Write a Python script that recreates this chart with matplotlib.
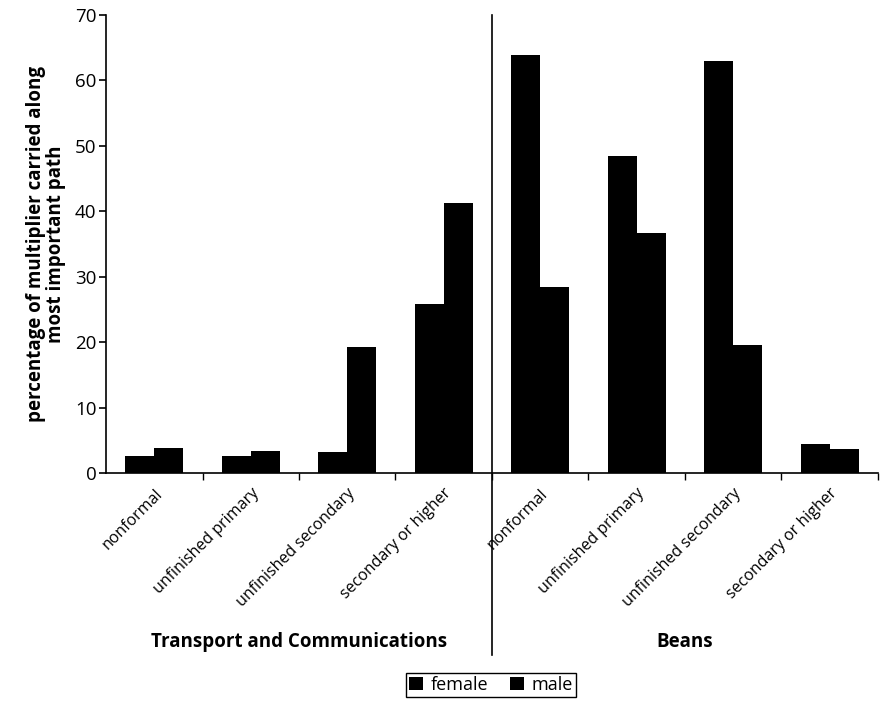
import matplotlib
matplotlib.use("Agg")
import matplotlib.pyplot as plt
from matplotlib.patches import Patch
import numpy as np

plt.rcParams['font.family'] = ['Open Sans', 'DejaVu Sans']

categories = ['nonformal', 'unfinished primary', 'unfinished secondary', 'secondary or higher',
              'nonformal', 'unfinished primary', 'unfinished secondary', 'secondary or higher']
groups = ['Transport and Communications', 'Beans']
female = [2.6, 2.6, 3.2, 25.8, 63.9, 48.5, 62.9, 4.5]
male = [3.8, 3.3, 19.2, 41.3, 28.5, 36.7, 19.6, 3.6]

fig = plt.figure(figsize=(8.8, 7.06), dpi=100)
ax = fig.add_axes([0.1205, 0.33, 0.877, 0.6488])

x = np.arange(len(categories))
w = 0.3
ax.bar(x - w/2, female, w, color='black', label='female')
ax.bar(x + w/2, male, w, color='black', label='male')

ax.set_xlim(-0.5, len(categories) - 0.5)
ax.set_ylim(0, 70)
ax.set_yticks(range(0, 71, 10))
ax.tick_params(axis='y', labelsize=13.5, direction='out', length=5, width=1.2, pad=2)

ax.set_xticks(x)
ax.set_xticklabels(categories, rotation=45, ha='right', rotation_mode='anchor', fontsize=11.5)
ax.tick_params(axis='x', which='major', length=0, pad=9)
ax.set_xticks(np.arange(0.5, len(categories), 1), minor=True)
ax.tick_params(axis='x', which='minor', direction='out', length=5, width=1)

for s in ['top', 'right']:
    ax.spines[s].set_visible(False)
ax.spines['left'].set_linewidth(1.2)
ax.spines['bottom'].set_linewidth(1.2)

ax.set_ylabel('percentage of multiplier carried along\nmost important path',
              fontsize=13.5, fontweight='bold', labelpad=6, linespacing=1.0)

# divider between the two groups
ax.plot([3.5, 3.5], [1, -0.397], color='black', lw=1.2,
        transform=ax.get_xaxis_transform(), clip_on=False)

ax.text(1.5, -0.368, groups[0], transform=ax.get_xaxis_transform(),
        ha='center', va='center', fontsize=13.5, fontweight='bold')
ax.text(5.5, -0.368, groups[1], transform=ax.get_xaxis_transform(),
        ha='center', va='center', fontsize=13.5, fontweight='bold')

handles = [Patch(facecolor='black', label='female'), Patch(facecolor='black', label='male')]
fig.legend(handles=handles, loc='center', bbox_to_anchor=(0.558, 0.03), ncol=2,
           fancybox=False, edgecolor='black', fontsize=13, handlelength=0.8,
           handleheight=0.8, handletextpad=0.4, columnspacing=1.2, borderpad=0.15,
           framealpha=1)

fig.savefig('out.png', dpi=100)
